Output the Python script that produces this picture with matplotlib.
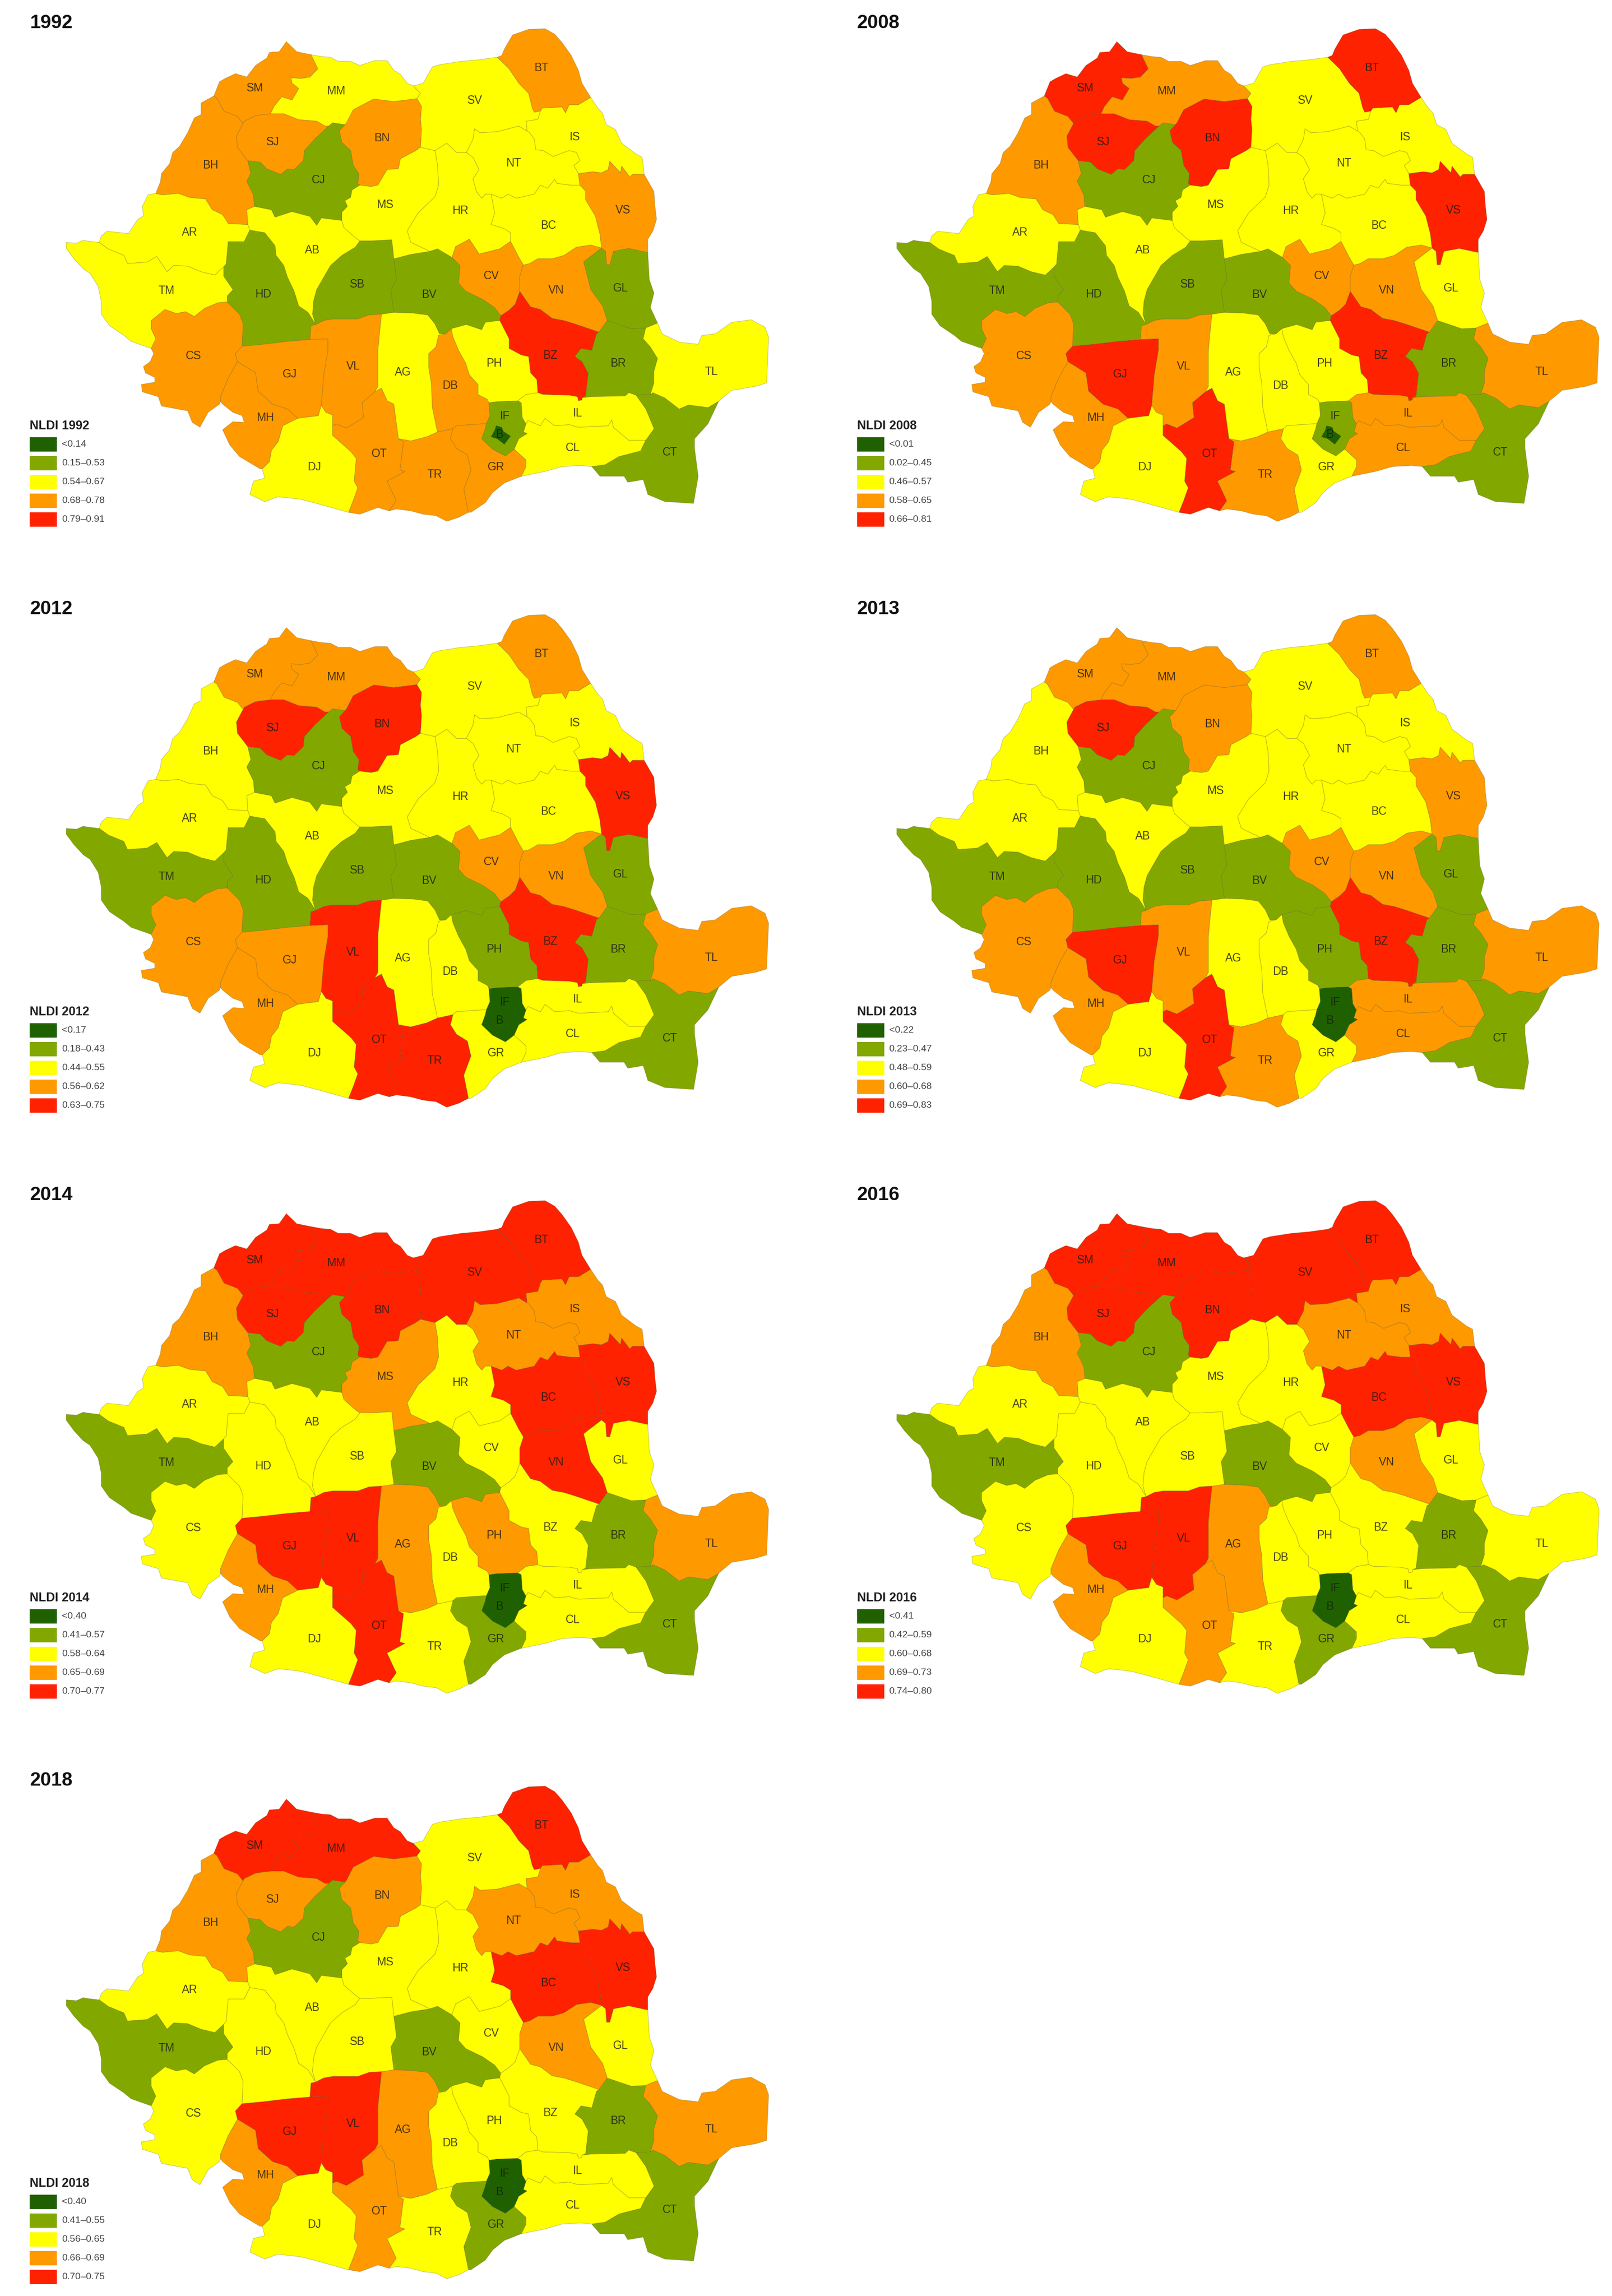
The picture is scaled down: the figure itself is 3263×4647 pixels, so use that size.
import math
import matplotlib
matplotlib.use("Agg")
import matplotlib.pyplot as plt
from matplotlib.collections import PatchCollection
from matplotlib.colors import BoundaryNorm, ListedColormap
from matplotlib.patches import Polygon, Rectangle

plt.rcParams["font.family"] = ["Liberation Sans", "DejaVu Sans"]

# county borders, in map units
ARCS = {
    # outer border, clockwise from the north-west
    "BH-o": [(300,516),(309,485),(311,463),(327,436),(333,406),(346,390),(362,353),(375,313),(388,304),(388,273),(413,254)],
    "SM-o": [(413,254),(424,216),(435,207),(455,194),(477,203),(494,172),(516,152),(521,137),(540,135),(554,108),(569,128),(574,135),(602,143)],
    "MM-o": [(602,143),(622,148),(640,150),(655,161),(679,161),(697,172),(726,159),(750,159),(763,185),(776,196),(789,220),(801,227)],
    "SV-o": [(801,227),(820,220),(838,176),(852,170),(894,161),(927,157),(964,150)],
    "BT-o": [(964,150),(973,145),(978,128),(994,90),(1025,75),(1057,73),(1076,88),(1090,110),(1108,145),(1122,185),(1129,220),(1146,258)],
    "IS-o": [(1146,258),(1160,287),(1169,300),(1176,331),(1194,344),(1206,381),(1234,410),(1246,419),(1250,465)],
    "VS-o": [(1250,465),(1269,511),(1271,551),(1274,586),(1267,617),(1257,640),(1257,675)],
    "GL-o": [(1257,675),(1260,748),(1269,784),(1262,823),(1276,865)],
    "TL-o": [(1276,865),(1285,894),(1318,916),(1355,922),(1362,898),(1388,894),(1420,863),(1458,856),(1485,876),(1492,903),(1488,1026),(1467,1035),(1420,1046),(1395,1075)],
    "CT-o": [(1395,1075),(1374,1136),(1348,1176),(1348,1202),(1355,1277),(1346,1350),(1290,1345),(1257,1326),(1248,1286),(1218,1293),(1211,1277),(1164,1277),(1148,1251)],
    "CL-o": [(1148,1251),(1127,1248),(1090,1251),(1057,1264),(1011,1277)],
    "GR-o": [(1011,1277),(978,1295),(955,1321),(941,1348),(913,1374),(908,1374)],
    "TR-o": [(908,1374),(890,1387),(866,1398),(845,1383),(820,1379),(796,1370),(768,1365),(754,1370)],
    "OT-o": [(754,1370),(732,1361),(697,1379),(675,1374)],
    "DJ-o": [(675,1374),(618,1352),(582,1339),(538,1332),(512,1345),(483,1326),(490,1290),(512,1282),(507,1257)],
    "MH-o": [(507,1257),(503,1257),(463,1224),(444,1193),(430,1152),(450,1130),(472,1132),(468,1114),(450,1105),(430,1083),(426,1076)],
    "CS-o": [(426,1076),(424,1083),(402,1105),(386,1145),(371,1132),(362,1101),(311,1088),(305,1063),(274,1050),(272,1030),(298,1024),(298,1011),(280,999),(276,982),(289,969),(296,947),(291,933)],
    "TM-o": [(291,933),(252,914),(238,898),(210,872),(194,841),(194,806),(188,766),(172,731),(159,719),(141,692),(126,664),(126,648),(146,650),(159,642),(166,644),(190,648)],
    "AR-o": [(190,648),(194,631),(205,618),(247,624),(265,586),(276,577),(274,551),(285,520),(300,516)],
    # north-west
    "BH-AR": [(300,516),(313,520),(344,516),(366,527),(397,531),(410,560),(430,573),(441,597),(479,600)],
    "BH-SM": [(413,254),(419,260),(433,295),(459,309),(470,328)],
    "BH-SJ": [(470,328),(457,362),(459,392),(479,428)],
    "BH-CJ": [(479,428),(485,463),(477,483),(490,520),(492,551)],
    "BH-AB": [(492,551),(477,560),(479,600)],
    "AB-AR": [(479,600),(483,615)],
    "SM-SJ": [(470,328),(472,322),(494,307),(510,304),(523,302)],
    "SM-MM": [(602,143),(615,181),(600,203),(582,207),(563,205),(565,220),(578,234),(565,265),(545,256),(530,282),(523,302)],
    "MM-SJ": [(523,302),(549,302),(578,318),(613,322),(629,335),(636,335)],
    "MM-CJ": [(636,335),(644,326),(668,331)],
    "MM-BN": [(668,331),(671,326),(684,291),(724,262),(763,269),(808,261)],
    "MM-SV": [(801,227),(815,247),(808,261)],
    "SJ-CJ": [(479,428),(503,432),(516,450),(543,465),(556,450),(569,452),(587,428),(589,401),(609,370),(636,335)],
    "BN-CJ": [(668,331),(657,348),(662,379),(679,401),(684,441),(695,463),(693,490),(697,494)],
    "BN-SV": [(808,261),(817,282),(815,317),(817,344),(815,392)],
    "BN-MS": [(815,392),(806,401),(776,423),(772,450),(750,452),(732,494),(719,498),(697,494)],
    "CJ-MS": [(697,494),(682,507),(679,527),(668,536),(673,551),(662,567),(662,589)],
    "CJ-AB": [(492,551),(499,553),(525,560),(532,580),(565,565),(600,578),(613,602),(622,582),(662,589)],
    # west and centre
    "AB-MS": [(662,589),(666,608),(688,635),(697,644)],
    "AB-SB": [(697,644),(688,661),(662,683),(640,710),(613,775),(607,806),(605,841),(611,869)],
    "AB-HD": [(483,615),(512,622),(532,657),(534,683),(549,710),(556,741),(569,779),(578,819),(596,836),(611,869)],
    "AR-HD": [(483,615),(472,646),(441,646),(437,706),(432,714)],
    "AR-TM": [(190,648),(208,666),(238,683),(245,705),(283,701),(302,686),(322,727),(335,710),(362,712),(388,727),(415,736),(432,714)],
    "HD-TM": [(432,714),(432,739),(450,775),(439,792),(439,808)],
    "TM-CS": [(439,808),(421,810),(395,825),(375,847),(358,834),(340,839),(318,828),(291,858),(291,880),(300,907),(291,933)],
    "HD-CS": [(439,808),(463,841),(470,867),(468,927)],
    "HD-GJ": [(468,927),(507,922),(556,914),(600,909)],
    "HD-VL": [(600,909),(602,872),(611,869)],
    "SB-VL": [(611,869),(627,858),(644,854),(693,854),(715,843),(739,841)],
    "SB-AG": [(739,841),(763,836)],
    "SB-BV": [(763,692),(768,748),(757,775),(763,836)],
    "MS-SB": [(697,644),(719,644),(759,641),(763,692)],
    "MS-BV": [(763,692),(796,680),(833,672)],
    "MS-SV": [(815,392),(843,401)],
    "MS-HR": [(843,401),(848,441),(850,494),(843,525),(810,569),(789,617),(796,648),(833,672)],
    "SV-HR": [(843,401),(866,381),(885,406),(904,406)],
    "SV-NT": [(904,406),(917,370),(920,342),(931,353),(964,350),(1006,335),(1022,348)],
    "SV-IS": [(1022,348),(1020,322),(1043,317),(1048,295)],
    "SV-BT": [(964,150),(987,181),(1006,220),(1025,247),(1032,286),(1036,298),(1048,295)],
    "BT-IS": [(1048,295),(1052,287),(1090,284),(1097,300),(1104,278),(1122,278),(1146,258)],
    "IS-VS": [(1250,465),(1227,465),(1222,472),(1206,443),(1204,461),(1183,430),(1180,452),(1167,461),(1150,458),(1122,463)],
    "IS-NT": [(1022,348),(1027,353),(1036,370),(1039,399),(1053,401),(1073,417),(1090,408),(1104,401),(1118,406),(1125,428),(1113,441),(1122,463)],
    "NT-VS": [(1122,463),(1125,494)],
    "NT-BC": [(1125,494),(1108,494),(1080,489),(1076,478),(1062,502),(1048,494),(1036,518),(1001,529),(985,518),(973,529),(952,518)],
    "NT-HR": [(904,406),(917,419),(929,452),(917,477),(924,512),(934,529),(941,518),(952,518)],
    "HR-BC": [(952,518),(959,569),(952,600),(976,610),(990,622),(990,645)],
    "BC-CV": [(990,645),(1006,688),(1015,709)],
    "BC-VS": [(1125,494),(1136,510),(1136,533),(1155,577),(1164,626),(1167,663)],
    "BC-VN": [(1015,709),(1027,705),(1043,692),(1071,692),(1094,683),(1118,661),(1146,655),(1167,663)],
    "VS-GL": [(1257,675),(1220,664),(1190,672),(1183,708),(1177,708),(1175,672),(1167,663)],
    "VN-GL": [(1167,663),(1132,700),(1146,775),(1169,819),(1178,858)],
    "VN-BR": [(1178,858),(1162,889)],
    "GL-BR": [(1178,858),(1197,867),(1225,880),(1253,878)],
    "GL-TL": [(1253,878),(1276,865)],
    "BR-TL": [(1253,878),(1248,907),(1262,929),(1276,960),(1269,995),(1269,1026),(1262,1057)],
    "BR-CT": [(1262,1057),(1234,1059)],
    "BR-IL": [(1234,1059),(1220,1052),(1213,1061),(1146,1063),(1129,1066)],
    "BR-BZ": [(1162,889),(1157,894),(1148,938),(1127,933),(1115,955),(1129,969),(1141,1000),(1136,1061),(1129,1066)],
    "VN-BZ": [(1162,889),(1115,867),(1094,858),(1071,852),(1048,828),(1029,821),(1008,779)],
    "CV-VN": [(1015,709),(1008,739),(1008,779)],
    "CV-BZ": [(1008,779),(999,814),(987,830),(971,845)],
    "CV-BV": [(876,688),(892,710),(889,757),(903,779),(936,801),(959,823),(971,845)],
    "CV-HR": [(990,645),(969,665),(929,679),(910,639),(883,659),(876,688)],
    "HR-BV": [(833,672),(848,665),(876,688)],
    "BV-BZ": [(971,845),(969,858)],
    "BV-PH": [(969,858),(941,863),(934,883),(904,869),(875,880)],
    "BV-AG": [(763,836),(801,838),(829,843),(843,867),(852,894),(864,894)],
    "BV-DB": [(864,894),(875,880)],
    # south
    "AG-VL": [(739,841),(735,894),(732,938),(732,1035),(726,1050)],
    "VL-OT": [(726,1050),(701,1079),(704,1119),(671,1147),(651,1136),(644,1141)],
    "AG-OT": [(726,1050),(739,1040),(750,1074),(763,1083),(768,1136),(772,1176)],
    "AG-DB": [(864,894),(850,898),(845,929),(831,947),(831,986),(836,1026),(838,1092),(848,1158)],
    "AG-TR": [(772,1176),(796,1182),(827,1171),(848,1158)],
    "OT-TR": [(772,1176),(782,1184),(775,1260),(785,1264),(750,1290),(768,1343),(754,1370)],
    "OT-DJ": [(644,1141),(644,1167),(680,1211),(690,1229),(686,1290),(693,1308),(684,1343),(675,1374)],
    "TR-GR": [(908,1374),(899,1312),(913,1260),(906,1220),(885,1202),(873,1176),(878,1149)],
    "DB-TR": [(848,1158),(862,1154),(878,1149)],
    "DB-GR": [(878,1149),(885,1141),(936,1136),(943,1136)],
    "DB-IF": [(943,1136),(950,1114),(948,1079)],
    "DB-PH": [(875,880),(878,902),(889,938),(903,973),(910,1004),(927,1030),(927,1057),(945,1070),(948,1079)],
    "PH-IF": [(948,1079),(964,1076),(1004,1074)],
    "PH-IL": [(1004,1074),(1020,1057),(1043,1052)],
    "IF-IL": [(1004,1074),(1011,1079),(1013,1119),(1020,1136)],
    "IF-CL": [(1020,1136),(1015,1158),(1022,1162),(1006,1176),(997,1204)],
    "IF-GR": [(943,1136),(941,1149),(934,1176),(955,1204),(980,1222),(997,1204)],
    "GR-CL": [(997,1204),(1020,1233),(1020,1251),(1011,1277)],
    "PH-BZ": [(969,858),(987,907),(987,933),(1011,951),(1025,955),(1029,999),(1041,1017),(1043,1052)],
    "BZ-IL": [(1043,1052),(1053,1057),(1104,1059),(1120,1063),(1122,1074),(1129,1072),(1129,1066)],
    "IL-CL": [(1020,1136),(1024,1127),(1048,1141),(1057,1121),(1076,1141),(1104,1138),(1122,1145),(1180,1141),(1187,1125),(1190,1145),(1220,1180),(1253,1180)],
    "IL-CT": [(1234,1059),(1253,1096),(1269,1149),(1253,1180)],
    "CL-CT": [(1253,1180),(1243,1209),(1201,1224),(1174,1246),(1148,1251)],
    "TL-CT": [(1395,1075),(1374,1092),(1336,1085),(1318,1096),(1290,1066),(1267,1052),(1262,1057)],
    "GJ-VL": [(600,909),(635,907),(635,938),(627,1004),(622,1086)],
    "VL-DJ": [(622,1086),(631,1105),(644,1112),(644,1141)],
    "GJ-DJ": [(622,1086),(616,1114),(591,1118),(576,1121)],
    "GJ-CS": [(468,927),(455,947),(459,969)],
    "GJ-MH": [(459,969),(494,999),(499,1048),(527,1083),(556,1096),(576,1121)],
    "MH-DJ": [(576,1121),(547,1141),(538,1184),(525,1207),(521,1238),(507,1257)],
    "MH-CS": [(459,969),(441,1013),(426,1063),(426,1076)],
}

COUNTY_ARCS = {
    "AB": ["BH-AB", "CJ-AB", "AB-MS", "AB-SB", "AB-HD", "AB-AR"],
    "AG": ["SB-AG", "BV-AG", "AG-DB", "AG-TR", "AG-OT", "AG-VL"],
    "AR": ["AR-o", "BH-AR", "AB-AR", "AR-HD", "AR-TM"],
    "BC": ["NT-BC", "BC-VS", "BC-VN", "BC-CV", "HR-BC"],
    "BH": ["BH-o", "BH-SM", "BH-SJ", "BH-CJ", "BH-AB", "BH-AR"],
    "BN": ["MM-BN", "BN-SV", "BN-MS", "BN-CJ"],
    "BR": ["VN-BR", "GL-BR", "BR-TL", "BR-CT", "BR-IL", "BR-BZ"],
    "BT": ["BT-o", "BT-IS", "SV-BT"],
    "BV": ["MS-BV", "HR-BV", "CV-BV", "BV-BZ", "BV-PH", "BV-DB", "BV-AG", "SB-BV"],
    "BZ": ["CV-BZ", "VN-BZ", "BR-BZ", "BZ-IL", "PH-BZ", "BV-BZ"],
    "CJ": ["SJ-CJ", "MM-CJ", "BN-CJ", "CJ-MS", "CJ-AB", "BH-CJ"],
    "CL": ["IF-CL", "IL-CL", "CL-CT", "CL-o", "GR-CL"],
    "CS": ["TM-CS", "HD-CS", "GJ-CS", "MH-CS", "CS-o"],
    "CT": ["BR-CT", "TL-CT", "CT-o", "CL-CT", "IL-CT"],
    "CV": ["CV-HR", "BC-CV", "CV-VN", "CV-BZ", "CV-BV"],
    "DB": ["BV-DB", "DB-PH", "DB-IF", "DB-GR", "DB-TR", "AG-DB"],
    "DJ": ["MH-DJ", "GJ-DJ", "VL-DJ", "OT-DJ", "DJ-o"],
    "GJ": ["HD-GJ", "GJ-VL", "GJ-DJ", "GJ-MH", "GJ-CS"],
    "GL": ["VS-GL", "GL-o", "GL-TL", "GL-BR", "VN-GL"],
    "GR": ["DB-GR", "IF-GR", "GR-CL", "GR-o", "TR-GR"],
    "HD": ["AB-HD", "HD-VL", "HD-GJ", "HD-CS", "HD-TM", "AR-HD"],
    "HR": ["MS-HR", "SV-HR", "NT-HR", "HR-BC", "CV-HR", "HR-BV"],
    "IF": ["PH-IF", "IF-IL", "IF-CL", "IF-GR", "DB-IF"],
    "IL": ["PH-IL", "BZ-IL", "BR-IL", "IL-CT", "IL-CL", "IF-IL"],
    "IS": ["BT-IS", "IS-o", "IS-VS", "IS-NT", "SV-IS"],
    "MH": ["MH-CS", "GJ-MH", "MH-DJ", "MH-o"],
    "MM": ["MM-o", "MM-SV", "MM-BN", "MM-CJ", "MM-SJ", "SM-MM"],
    "MS": ["BN-MS", "MS-SV", "MS-HR", "MS-BV", "MS-SB", "AB-MS", "CJ-MS"],
    "NT": ["SV-NT", "IS-NT", "NT-VS", "NT-BC", "NT-HR"],
    "OT": ["VL-OT", "AG-OT", "OT-TR", "OT-o", "OT-DJ"],
    "PH": ["BV-PH", "PH-BZ", "PH-IL", "PH-IF", "DB-PH"],
    "SB": ["MS-SB", "SB-BV", "SB-AG", "SB-VL", "AB-SB"],
    "SJ": ["SM-SJ", "MM-SJ", "SJ-CJ", "BH-SJ"],
    "SM": ["SM-o", "SM-MM", "SM-SJ", "BH-SM"],
    "SV": ["SV-o", "SV-BT", "SV-IS", "SV-NT", "SV-HR", "MS-SV", "BN-SV", "MM-SV"],
    "TL": ["TL-o", "TL-CT", "BR-TL", "GL-TL"],
    "TM": ["TM-o", "AR-TM", "HD-TM", "TM-CS"],
    "TR": ["AG-TR", "DB-TR", "TR-GR", "TR-o", "OT-TR"],
    "VL": ["SB-VL", "AG-VL", "VL-OT", "VL-DJ", "GJ-VL", "HD-VL"],
    "VN": ["CV-VN", "BC-VN", "VN-GL", "VN-BR", "VN-BZ"],
    "VS": ["VS-o", "VS-GL", "BC-VS", "NT-VS", "IS-VS"],
}
BUCHAREST = [(962,1141),(973,1145),(976,1156),(990,1169),(978,1191),(964,1176),(952,1171),(959,1154)]

LABEL_POS = {
    "SM": (493,233), "MM": (651,241), "SV": (921,266), "BT": (1050,179), "BN": (740,367), "SJ": (528,378),
    "IS": (1115,365), "BH": (406,441), "CJ": (617,481), "NT": (996,435), "MS": (746,547), "HR": (892,563),
    "VS": (1209,561), "BC": (1064,602), "AR": (366,621), "AB": (605,669), "CV": (953,738), "SB": (692,761),
    "TM": (321,778), "VN": (1079,777), "GL": (1204,771), "HD": (509,787), "BV": (831,788), "CS": (373,954),
    "BZ": (1067,952), "PH": (958,974), "BR": (1199,974), "TL": (1380,996), "AG": (781,997), "VL": (684,981),
    "GJ": (561,1003), "DB": (872,1033), "IF": (979,1115), "IL": (1121,1108), "MH": (513,1120), "CL": (1111,1200),
    "CT": (1300,1212), "B": (968,1165), "OT": (735,1217), "DJ": (608,1252), "TR": (842,1273), "GR": (962,1252),
}

# class of each county per year: 0 darkest green ... 4 red
COUNTIES = ["AB","AG","AR","B","BC","BH","BN","BR","BT","BV","BZ","CJ","CL","CS","CT","CV","DB","DJ","GJ","GL","GR",
            "HD","HR","IF","IL","IS","MH","MM","MS","NT","OT","PH","SB","SJ","SM","SV","TL","TM","TR","VL","VN","VS"]
CLASS_1992 = [2,2,2,0,2,3,3,1,3,1,4,1,2,3,1,3,3,2,3,1,3, 1,2,1,2,2,3,2,2,2,3,2,1,3,3,2,2,2,3,3,3,3]
CLASS_2008 = [2,2,2,0,2,3,4,1,4,1,4,1,3,3,1,3,2,2,4,2,2, 1,2,1,3,2,3,3,2,2,4,2,1,4,4,2,3,1,3,3,3,4]
CLASS_2012 = [2,2,2,0,2,2,4,1,3,1,4,1,2,3,1,3,2,2,3,1,2, 1,2,0,2,2,3,3,2,2,4,1,1,4,3,2,3,1,4,4,3,4]
CLASS_2013 = [2,2,2,0,2,2,3,1,3,1,4,1,3,3,1,3,2,2,4,1,2, 1,2,0,3,2,3,3,2,2,4,1,1,4,3,2,3,1,3,3,3,3]
CLASS_2014 = [2,3,2,0,4,3,4,1,4,1,2,1,2,2,1,2,2,2,4,2,1, 2,2,0,2,3,3,4,3,3,4,3,2,4,4,4,3,1,2,4,4,4]
CLASS_2016 = [2,3,2,0,4,3,4,1,4,1,2,1,2,2,1,2,2,2,4,2,1, 2,2,0,2,3,3,4,2,3,3,2,2,4,4,4,2,1,2,4,3,4]
CLASS_2018 = [2,3,2,0,4,3,3,1,4,1,2,1,2,2,1,2,2,2,4,2,1, 2,2,0,2,3,3,4,2,3,3,2,2,3,4,2,3,1,2,4,3,4]

LEGEND_1992 = ["<0.14", "0.15–0.53", "0.54–0.67", "0.68–0.78", "0.79–0.91"]
LEGEND_2008 = ["<0.01", "0.02–0.45", "0.46–0.57", "0.58–0.65", "0.66–0.81"]
LEGEND_2012 = ["<0.17", "0.18–0.43", "0.44–0.55", "0.56–0.62", "0.63–0.75"]
LEGEND_2013 = ["<0.22", "0.23–0.47", "0.48–0.59", "0.60–0.68", "0.69–0.83"]
LEGEND_2014 = ["<0.40", "0.41–0.57", "0.58–0.64", "0.65–0.69", "0.70–0.77"]
LEGEND_2016 = ["<0.41", "0.42–0.59", "0.60–0.68", "0.69–0.73", "0.74–0.80"]
LEGEND_2018 = ["<0.40", "0.41–0.55", "0.56–0.65", "0.66–0.69", "0.70–0.75"]

COLORS = ["#1f6100", "#82a800", "#ffff00", "#ff9900", "#ff2200"]

W, H = 3263, 4647
PANEL_W, PANEL_H = 1632, 1180
MAP_UNITS = 1568

# year, classes, legend, panel origin in pixels, title/legend shift in map units
PANELS = [
    (1992, CLASS_1992, LEGEND_1992, 3, 3, 0),
    (2008, CLASS_2008, LEGEND_2008, 1684, 3, -6),
    (2012, CLASS_2012, LEGEND_2012, 3, 1189, 0),
    (2013, CLASS_2013, LEGEND_2013, 1684, 1189, -6),
    (2014, CLASS_2014, LEGEND_2014, 3, 2375, 0),
    (2016, CLASS_2016, LEGEND_2016, 1684, 2375, -6),
    (2018, CLASS_2018, LEGEND_2018, 3, 3560, 0),
]


def dist(p, q):
    return math.hypot(p[0] - q[0], p[1] - q[1])


def county_ring(names):
    """Chain the border arcs of one county into a closed ring."""
    pts = list(ARCS[names[0]])
    nxt = ARCS[names[1]]
    if min(dist(pts[0], nxt[0]), dist(pts[0], nxt[-1])) < min(dist(pts[-1], nxt[0]), dist(pts[-1], nxt[-1])):
        pts.reverse()
    for name in names[1:]:
        arc = ARCS[name]
        if dist(pts[-1], arc[-1]) < dist(pts[-1], arc[0]):
            arc = arc[::-1]
        pts.extend(arc)
    return pts


def draw_panel(fig, year, classes, legend, x0, y0, shift):
    ax = fig.add_axes([x0 / W, 1 - (y0 + PANEL_H) / H, PANEL_W / W, PANEL_H / H])
    ax.set_xlim(0, MAP_UNITS)
    ax.set_ylim(MAP_UNITS, 0)
    ax.axis("off")

    cmap = ListedColormap(COLORS)
    norm = BoundaryNorm([-0.5, 0.5, 1.5, 2.5, 3.5, 4.5], cmap.N)
    class_of = dict(zip(COUNTIES, classes))

    names = [c for c in COUNTIES if c != "B"] + ["B"]
    patches = [Polygon(BUCHAREST if c == "B" else county_ring(COUNTY_ARCS[c]), closed=True) for c in names]
    coll = PatchCollection(patches, cmap=cmap, norm=norm, edgecolor=(0.3, 0.3, 0.1, 0.3), linewidth=0.8)
    coll.set_array([class_of[c] for c in names])
    ax.add_collection(coll)

    for name, (lx, ly) in LABEL_POS.items():
        ax.text(lx, ly, name, ha="center", va="center", fontsize=16.5, color="#1a1a1a", alpha=0.8)

    ax.text(55 + shift, 58, str(year), ha="left", va="center", fontsize=28, fontweight="bold", color="#111111")
    ax.text(55 + shift, 1141, f"NLDI {year}", ha="left", va="center", fontsize=18, fontweight="bold", color="#222222")
    for i, label in enumerate(legend):
        top = 1172 + i * 50.5
        ax.add_patch(Rectangle((55 + shift, top), 53, 38, facecolor=COLORS[i], edgecolor="none"))
        ax.text(117 + shift, top + 19, label, ha="left", va="center", fontsize=14, color="#444444")


fig = plt.figure(figsize=(W / 100, H / 100), dpi=100)
for year, classes, legend, x0, y0, shift in PANELS:
    draw_panel(fig, year, classes, legend, x0, y0, shift)

fig.savefig("out.png", dpi=100)
